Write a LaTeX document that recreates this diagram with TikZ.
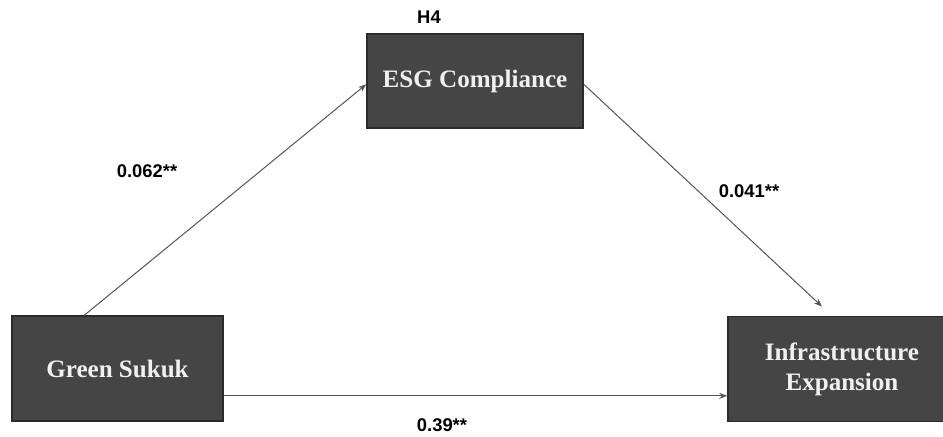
\documentclass[tikz,border=0pt]{standalone}
\usepackage{fontspec}
\setmainfont{Liberation Serif}
\newfontfamily\labelfont{Liberation Sans}
\usetikzlibrary{arrows.meta}
\definecolor{boxgray}{HTML}{454545}
\definecolor{edgegray}{HTML}{2B2B2B}
\definecolor{linegray}{HTML}{555555}
\begin{document}
\begin{tikzpicture}[x=0.75pt, y=-0.75pt, line width=0.75pt,
  varbox/.style={draw=edgegray, line width=1.2pt, fill=boxgray, text=white!94!black,
    font=\fontsize{18.8}{22.5}\selectfont\bfseries, align=center, inner sep=0pt},
  coef/.style={font=\labelfont\fontsize{13.8}{15}\selectfont\bfseries, inner sep=0pt},
  arr/.style={draw=linegray, -{Stealth[length=6pt,width=4.5pt]}}]
  \useasboundingbox (0,0) rectangle (943,436);
  % 변수
  \node[varbox, minimum width=162pt, minimum height=70.5pt] (esg) at (475,81) {ESG Compliance};
  \node[varbox, minimum width=158pt, minimum height=78.5pt] (gs) at (117.5,368.5) {Green Sukuk};
  \node[varbox, minimum width=171pt, minimum height=78.5pt] (infra) at (842,369) {Infrastructure\\Expansion};
  % 경로
  \draw[arr] ([xshift=-25pt]gs.north) -- ([yshift=-2.5pt]esg.west);
  \draw[arr] ([yshift=-2.5pt]esg.east) -- ([xshift=-15pt, yshift=7pt]infra.north);
  \draw[arr] ([yshift=-20.5pt]gs.east) -- ([yshift=-20.5pt]gs.east -| infra.west);
  % 계수
  \node[coef] (h4) at (429,17) {H4};
  \node[coef] (a) at (147,171) {0.062**};
  \node[coef] (b) at (749,191) {0.041**};
  \node[coef] (c) at (442,425) {0.39**};
\end{tikzpicture}
\end{document}
